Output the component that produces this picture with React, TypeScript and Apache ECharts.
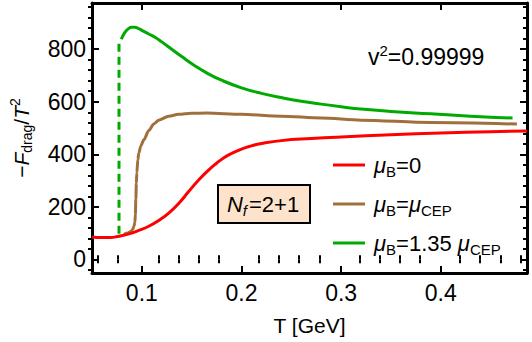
import React, { useEffect, useRef } from 'react';
import * as echarts from 'echarts';

// ---- data ----
const tRed = [0.05, 0.06, 0.068, 0.077, 0.087, 0.097, 0.107, 0.117, 0.127, 0.137, 0.147, 0.157, 0.167, 0.175, 0.182, 0.19, 0.2, 0.21, 0.22, 0.24, 0.27, 0.3, 0.35, 0.4, 0.45, 0.4865];
const fRed = [85, 83, 83, 88, 97, 110, 126, 148, 176, 213, 258, 302, 340, 366, 386, 403, 420, 432, 441, 452, 460, 466, 474, 481, 486, 489];

const tBrown = [0.082, 0.086, 0.089, 0.091, 0.092, 0.093, 0.0935, 0.094, 0.0945, 0.095, 0.096, 0.097, 0.099, 0.102, 0.107, 0.112, 0.117, 0.127, 0.137, 0.15, 0.165, 0.2, 0.24, 0.28, 0.32, 0.39, 0.4764];
const fBrown = [95, 100, 106, 115, 125, 140, 170, 230, 290, 330, 380, 405, 432, 455, 491, 515, 530, 545, 552, 556, 557, 552, 545, 538, 530, 521, 515];

const tGreen = [0.0794, 0.083, 0.0865, 0.0898, 0.093, 0.097, 0.1, 0.107, 0.1136, 0.12, 0.13, 0.14, 0.152, 0.165, 0.18, 0.2, 0.22, 0.241, 0.26, 0.28, 0.3, 0.32, 0.35, 0.39, 0.43, 0.472];
const fGreen = [838, 864, 878, 884, 884, 878, 872, 858, 845, 828, 800, 772, 740, 710, 682, 653, 632, 615, 602, 591, 581, 572, 563, 554, 545, 538];

const tGreenJump = [0.0771, 0.0771];
const fGreenJump = [97, 836];

const xMajorTicks = [0.1, 0.2, 0.3, 0.4];
const xMinorTicks = [0.06, 0.08, 0.12, 0.14, 0.16, 0.18, 0.22, 0.24, 0.26, 0.28, 0.32, 0.34, 0.36, 0.38, 0.42, 0.44, 0.46, 0.48];
const yMajorTicks = [0, 200, 400, 600, 800];
const yMinorTicks = [-40, 40, 80, 120, 160, 240, 280, 320, 360, 440, 480, 520, 560, 640, 680, 720, 760, 840, 880, 920, 960];

const seriesNames = ['μB=0', 'μB=μCEP', 'μB=1.35 μCEP'];
const seriesColors = ['#ff0000', '#a0703c', '#00aa00'];
const legendRichText: Record<string, string> = {
  'μB=0': '{mu|μ}{sub|B}{n|=0}',
  'μB=μCEP': '{mu|μ}{sub|B}{n|=}{mu|μ}{sub|CEP}',
  'μB=1.35 μCEP': '{mu|μ}{sub|B}{n|=1.35 }{mu|μ}{sub|CEP}',
};

const X_MIN = 0.05;
const X_MAX = 0.4865;
const Y_MIN = -52;
const Y_MAX = 976;

const FONT = "'Liberation Sans', Arial, sans-serif";
const FS_TICK = 23;

const makeRich = (fs: number): any => {
  const s = Math.round(fs * 0.66);
  const lh = Math.round(fs * 1.25);
  return {
    n: { fontSize: fs, lineHeight: lh, fontFamily: FONT, color: '#000' },
    i: { fontSize: fs, lineHeight: lh, fontFamily: FONT, fontStyle: 'italic', color: '#000' },
    mu: { fontSize: fs, lineHeight: lh, fontFamily: FONT, fontStyle: 'italic', color: '#000' },
    sub: { fontSize: s, fontFamily: FONT, verticalAlign: 'bottom', color: '#000' },
    subi: { fontSize: s, fontFamily: FONT, fontStyle: 'italic', verticalAlign: 'bottom', color: '#000', padding: [0, 2, 0, 0] },
    sup: { fontSize: s, fontFamily: FONT, verticalAlign: 'top', color: '#000' },
  };
};

const zip = (a: number[], b: number[]) => a.map((v, k) => [v, b[k]]);

const GRID = { left: 88, right: 5, top: 3, bottom: 69 };
const FRAME = { lineStyle: { color: '#000', width: 3 } };

export default function App() {
  const ref = useRef<HTMLDivElement>(null);
  useEffect(() => {
    if (!ref.current) return;
    const chart = echarts.init(ref.current, null, { renderer: 'svg' });
    const majorX = (pos: string, labels: boolean) => ({
      type: 'value', gridIndex: 0, position: pos, min: X_MIN, max: X_MAX,
      axisLine: { show: true, onZero: false, ...FRAME },
      axisTick: { show: true, inside: true, length: 7, customValues: xMajorTicks, lineStyle: { color: '#000', width: 2 } },
      axisLabel: { show: labels, customValues: xMajorTicks, margin: 8, color: '#000', fontSize: FS_TICK, fontFamily: FONT, formatter: (v: number) => String(v) },
      splitLine: { show: false },
      ...(labels ? { name: 'T [GeV]', nameLocation: 'middle', nameGap: 42, nameTextStyle: { color: '#000', fontSize: 21, fontFamily: FONT } } : {}),
    });
    const minorX = (pos: string) => ({
      type: 'value', gridIndex: 1, position: pos, min: X_MIN, max: X_MAX,
      axisLine: { show: false },
      axisTick: { show: true, inside: true, length: 4, customValues: xMinorTicks, lineStyle: { color: '#000', width: 2 } },
      axisLabel: { show: false },
      splitLine: { show: false },
    });
    const majorY = (pos: string, labels: boolean) => ({
      type: 'value', gridIndex: 0, position: pos, min: Y_MIN, max: Y_MAX,
      axisLine: { show: true, onZero: false, ...FRAME },
      axisTick: { show: true, inside: true, length: 7, customValues: yMajorTicks, lineStyle: { color: '#000', width: 2 } },
      axisLabel: { show: labels, customValues: yMajorTicks, margin: 6, color: '#000', fontSize: FS_TICK, fontFamily: FONT },
      splitLine: { show: false },
      ...(labels ? {
        name: '{n|−}{i|F}{sub|drag}{n|/}{i|T}{sup|2}', nameLocation: 'middle', nameRotate: 90, nameGap: 58,
        nameTextStyle: { rich: makeRich(21) },
      } : {}),
    });
    const minorY = (pos: string) => ({
      type: 'value', gridIndex: 1, position: pos, min: Y_MIN, max: Y_MAX,
      axisLine: { show: false },
      axisTick: { show: true, inside: true, length: 4, customValues: yMinorTicks, lineStyle: { color: '#000', width: 2 } },
      axisLabel: { show: false },
      splitLine: { show: false },
    });

    const lineSeries = (name: string, t: number[], f: number[], color: string, z: number, monotone: boolean) => ({
      type: 'line', name, xAxisIndex: 0, yAxisIndex: 0, data: zip(t, f), showSymbol: false, symbol: 'none',
      smooth: monotone ? 0.3 : 0.5, ...(monotone ? { smoothMonotone: 'x' } : {}), z,
      lineStyle: { color, width: 3 }, itemStyle: { color },
    });

    chart.setOption({
      animation: false,
      backgroundColor: '#fff',
      grid: [{ ...GRID }, { ...GRID }],
      xAxis: [majorX('bottom', true), majorX('top', false), minorX('bottom'), minorX('top')],
      yAxis: [majorY('left', true), majorY('right', false), minorY('left'), minorY('right')],
      legend: {
        orient: 'vertical', left: 328, top: 149, itemWidth: 32, itemHeight: 3, itemGap: 14,
        icon: 'rect',
        data: seriesNames, formatter: (name: string) => legendRichText[name],
        textStyle: { rich: makeRich(22), padding: [0, 0, 0, 4] },
        selectedMode: false,
      },
      graphic: [
        {
          type: 'rect', shape: { x: 218, y: 185, width: 92, height: 38 },
          style: { fill: '#fde3cc', stroke: '#000', lineWidth: 2 }, z: 10,
        },
        {
          type: 'text', x: 263, y: 204, z: 11,
          style: { text: '{i|N}{subi|f}{n|=2+1}', align: 'center', verticalAlign: 'middle', rich: makeRich(22) },
        },
        {
          type: 'text', x: 368, y: 57, z: 11,
          style: { text: '{n|v}{sup|2}{n|=0.99999}', align: 'left', verticalAlign: 'middle', rich: makeRich(23) },
        },
      ],
      series: [
        {
          type: 'line', name: 'green jump', xAxisIndex: 0, yAxisIndex: 0, data: zip(tGreenJump, fGreenJump),
          showSymbol: false, symbol: 'none', z: 2,
          lineStyle: { color: seriesColors[2], width: 3, type: [8, 5] },
        },
        lineSeries(seriesNames[2], tGreen, fGreen, seriesColors[2], 2, false),
        lineSeries(seriesNames[1], tBrown, fBrown, seriesColors[1], 3, true),
        lineSeries(seriesNames[0], tRed, fRed, seriesColors[0], 4, false),
      ],
    });
    return () => chart.dispose();
  }, []);
  return <div ref={ref} style={{ width: 532, height: 342, position: 'absolute', left: 0, top: 0 }} />;
}
